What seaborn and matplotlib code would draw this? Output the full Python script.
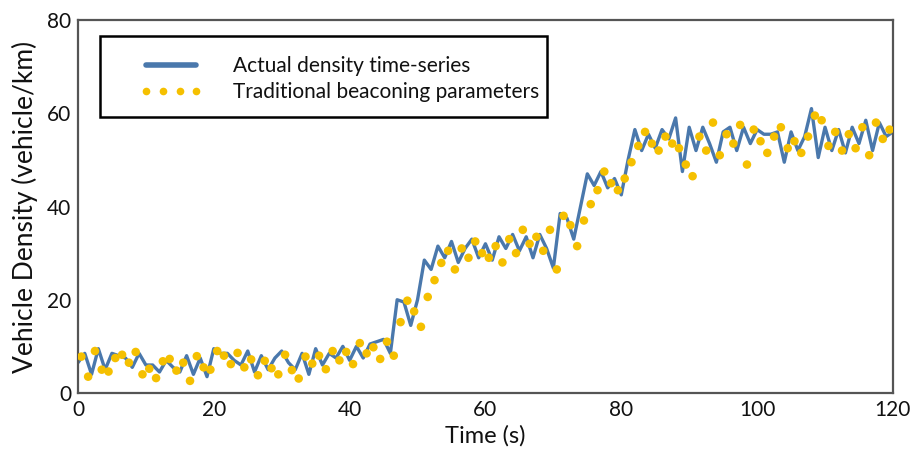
import numpy as np
import pandas as pd
import matplotlib
matplotlib.use("Agg")
import matplotlib.pyplot as plt
from matplotlib.lines import Line2D
from matplotlib.patches import Rectangle
import seaborn as sns

# ---- data ----
line_time = list(range(0, 121))
line_density = [
    6.5, 8.5, 4.0, 9.5, 5.0, 8.5, 8.0, 7.5, 5.5, 8.5,
    6.0, 6.0, 4.5, 7.0, 5.5, 4.5, 8.0, 4.0, 7.5, 3.5,
    9.5, 8.5, 8.5, 7.0, 6.0, 9.0, 4.5, 8.0, 5.0, 7.5,
    9.0, 6.5, 5.0, 8.5, 4.0, 9.5, 6.0, 8.5, 7.5, 10.0,
    7.0, 10.0, 7.5, 10.5, 11.0, 11.5, 8.5, 20.0, 19.5, 14.5,
    20.0, 28.5, 26.5, 31.5, 29.0, 32.5, 28.0, 31.0, 33.0, 29.0,
    32.0, 28.5, 33.5, 31.0, 34.0, 30.5, 33.5, 29.0, 34.0, 31.0,
    26.8, 38.5, 37.5, 33.0, 40.0, 47.0, 44.5, 47.5, 44.0, 46.0,
    42.5, 50.0, 56.5, 52.0, 55.5, 52.5, 56.5, 54.5, 59.0, 47.5,
    57.0, 52.0, 57.0, 53.5, 49.5, 56.0, 57.0, 52.0, 57.0, 53.5,
    56.5, 55.5, 55.5, 56.0, 49.5, 56.0, 52.0, 55.0, 61.0, 50.5,
    57.0, 52.0, 56.5, 51.5, 57.0, 53.5, 58.5, 52.0, 58.0, 55.0,
    56.0,
]

dot_time = [i + 0.5 for i in range(120)]
dot_density = [
    7.8, 3.5, 9.0, 5.0, 4.6, 7.5, 8.2, 6.5, 8.8, 4.0,
    5.2, 3.2, 6.8, 7.3, 4.8, 6.5, 2.6, 7.9, 5.5, 5.0,
    9.0, 8.0, 6.2, 8.6, 5.5, 7.2, 3.8, 6.9, 5.3, 4.0,
    8.2, 4.9, 3.1, 7.8, 6.3, 8.0, 5.1, 9.0, 7.0, 8.8,
    6.2, 10.7, 8.5, 9.8, 7.3, 11.0, 8.0, 15.2, 19.8, 17.5,
    14.2, 20.6, 24.2, 27.9, 30.5, 26.5, 31.0, 29.0, 32.5, 30.0,
    29.0, 31.5, 28.0, 33.0, 30.0, 35.0, 32.0, 33.5, 30.5, 35.0,
    26.5, 38.0, 36.0, 31.5, 37.0, 40.5, 43.5, 47.5, 45.0, 43.5,
    46.0, 49.5, 53.0, 56.0, 53.5, 52.0, 55.0, 53.5, 52.5, 49.0,
    46.5, 55.0, 52.0, 58.0, 51.0, 55.5, 53.5, 57.5, 49.0, 56.5,
    54.0, 51.5, 55.0, 57.0, 52.5, 54.0, 51.5, 55.0, 59.5, 58.5,
    53.0, 56.0, 52.0, 55.5, 52.5, 57.0, 51.0, 58.0, 54.5, 56.5,
]

x_ticks = [0, 20, 40, 60, 80, 100, 120]
y_ticks = [0, 20, 40, 60, 80]
series_labels = ["Actual density time-series", "Traditional beaconing parameters"]
x_label = "Time (s)"
y_label = "Vehicle Density (vehicle/km)"

line_color = "#4A78AC"
dot_color = "#F5C000"

# ---- plot ----
sns.set_style("white")
plt.rcParams["font.family"] = ["Lato", "DejaVu Sans"]

fig = plt.figure(figsize=(9.15, 4.55), dpi=100)
ax = fig.add_axes([0.0852, 0.1363, 0.8907, 0.8197])

line_df = pd.DataFrame({"t": line_time, "d": line_density})
dot_df = pd.DataFrame({"t": dot_time, "d": dot_density})

sns.lineplot(data=line_df, x="t", y="d", ax=ax, color=line_color, linewidth=2.4,
             legend=False, zorder=2)
sns.scatterplot(data=dot_df, x="t", y="d", ax=ax, color=dot_color, s=38,
                edgecolor="none", legend=False, zorder=3)

ax.set_xlim(0, 120)
ax.set_ylim(0, 80)
ax.set_xticks(x_ticks)
ax.set_yticks(y_ticks)
ax.tick_params(axis="both", direction="in", length=6, width=1.2, color="#444444",
               labelsize=15, pad=5, labelcolor="#111111")
ax.tick_params(axis="x", top=False)
ax.tick_params(axis="y", right=False)
for sp in ax.spines.values():
    sp.set_visible(True)
    sp.set_color("#555555")
    sp.set_linewidth(1.6)

ax.set_xlabel(x_label, fontsize=17, labelpad=4, color="#111111")
ax.set_ylabel(y_label, fontsize=19, labelpad=6, color="#111111")

# legend frame (drawn as a box in axes coordinates)
ax.add_patch(Rectangle((0.027, 0.740), 0.5485, 0.217, transform=ax.transAxes,
                       facecolor="white", edgecolor="black", linewidth=1.8,
                       zorder=4))

handles = [
    Line2D([0], [0], color=line_color, linewidth=4, solid_capstyle="round"),
    Line2D([0], [0], color=dot_color, linestyle="none", marker="o", markersize=5.5,
           markeredgewidth=0),
]
leg = ax.legend(handles, series_labels, loc="upper left",
                bbox_to_anchor=(0.0761, 0.904), fontsize=15, frameon=False,
                handlelength=3.0, handletextpad=1.45, numpoints=4,
                borderpad=0, labelspacing=0.3, borderaxespad=0)
leg.set_zorder(5)
for t in leg.get_texts():
    t.set_color("#111111")

fig.savefig("out.png", dpi=100)
